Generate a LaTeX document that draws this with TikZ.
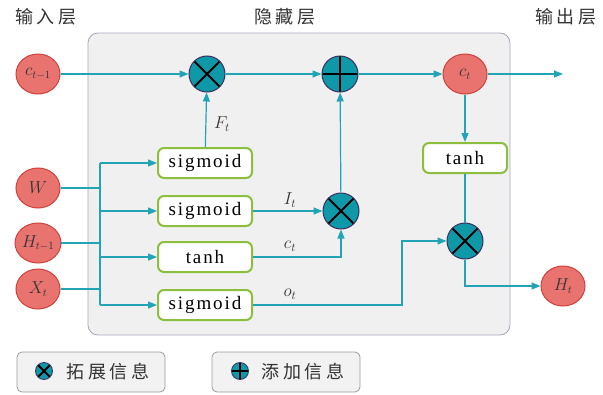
\documentclass[tikz,border=0pt]{standalone}
\usepackage{fontspec}
\setmainfont{Liberation Serif}
\newfontfamily\cjk[LetterSpace=20]{Noto Sans CJK SC}
\newfontfamily\gatefont[LetterSpace=10]{Liberation Serif}
\usetikzlibrary{arrows.meta,shapes.geometric}

\definecolor{iofill}{HTML}{E8736F}
\definecolor{ioedge}{HTML}{D0403C}
\definecolor{opfill}{HTML}{0E98A8}
\definecolor{opedge}{HTML}{3A3060}
\definecolor{wire}{HTML}{22A3B6}
\definecolor{gategreen}{HTML}{8DBF3F}
\definecolor{panelfill}{HTML}{F1F0F0}
\definecolor{paneledge}{HTML}{ABA5BC}
\definecolor{legendfill}{HTML}{F2F2F2}
\definecolor{legendedge}{HTML}{9C9C9C}
\definecolor{inktext}{HTML}{333333}

\tikzset{
  io/.style={ellipse, draw=ioedge, fill=iofill, line width=1pt,
    minimum width=44pt, minimum height=40pt, inner sep=0pt,
    font=\fontsize{16}{18}\selectfont, text=inktext},
  gate/.style={draw=gategreen, fill=white, line width=2pt, rounded corners=6pt,
    minimum width=94pt, minimum height=30pt, inner sep=0pt,
    font=\gatefont\fontsize{19}{21}\selectfont, text=black},
  opnode/.style={circle, draw=opedge, fill=opfill, line width=1pt,
    minimum size=36pt, inner sep=0pt},
  mul/.style={opnode, path picture={
    \draw[black, line width=2pt]
      (path picture bounding box.south west) -- (path picture bounding box.north east)
      (path picture bounding box.north west) -- (path picture bounding box.south east);}},
  add/.style={opnode, path picture={
    \draw[black, line width=2pt]
      (path picture bounding box.north) -- (path picture bounding box.south)
      (path picture bounding box.west) -- (path picture bounding box.east);}},
  wireline/.style={draw=wire, line width=1.2pt},
  arr/.style={wireline, -{Triangle[length=9pt,width=7pt]}},
  lbl/.style={font=\fontsize{17}{19}\selectfont, text=inktext, inner sep=1pt},
  title/.style={font=\cjk\fontsize{18}{20}\selectfont, text=inktext},
  legendbox/.style={draw=legendedge, fill=legendfill, line width=0.8pt,
    rounded corners=5pt, minimum width=148pt, minimum height=40pt},
}

\begin{document}
\begin{tikzpicture}[x=1pt, y=-1pt]
\useasboundingbox (0,0) rectangle (603,394);

% hidden-layer panel
\node[draw=paneledge, fill=panelfill, line width=0.8pt, rounded corners=10pt,
  minimum width=422pt, minimum height=302pt, inner sep=0pt] (panel) at (299,184) {};

% layer titles
\node[title] (tin) at (46,17) {输入层};
\node[title] (thid) at (285,17) {隐藏层};
\node[title] (tout) at (566,17) {输出层};

% inputs
\node[io] (ctm) at (38,74) {$c_{t-1}$};
\node[io] (w) at (38,188) {$W$};
\node[io] (htm) at (38,243) {$H_{t-1}$};
\node[io] (xt) at (38,289) {$X_t$};

% cell-state row
\node[mul] (m1) at (207,74) {};
\node[add] (a1) at (340,74) {};
\node[io] (ct) at (465,74) {$c_t$};
\coordinate (cout) at (563,74);

% gates
\node[gate] (g1) at (205,163) {sigmoid};
\node[gate] (g2) at (205,211) {sigmoid};
\node[gate] (g3) at (205,257) {tanh};
\node[gate] (g4) at (205,305) {sigmoid};
\node[mul] (m2) at (341,211) {};

% output side
\node[gate, minimum width=84pt] (g5) at (465,158) {tanh};
\node[mul] (m3) at (465,241) {};
\node[io] (ht) at (563,286) {$H_t$};

% input bus
\coordinate (bt) at (100,163);
\coordinate (bb) at (100,305);
\coordinate (jog) at (402,0);
\draw[wireline] (w.east) -- (w.east -| bt);
\draw[wireline] (htm.east) -- (htm.east -| bt);
\draw[wireline] (xt.east) -- (xt.east -| bt);
\draw[wireline] (bt) -- (bb);
\draw[arr] (bt) -- (g1.west);
\draw[arr] (bt |- g2) -- (g2.west);
\draw[arr] (bt |- g3) -- (g3.west);
\draw[arr] (bb) -- (g4.west);

% cell state path
\draw[arr] (ctm) -- (m1);
\draw[arr] (m1) -- (a1);
\draw[arr] (a1) -- (ct);
\draw[arr] (ct) -- (cout);

% gate outputs
\draw[arr] (g1) -- (m1);
\node[lbl] (lf) at (222,124) {$F_t$};
\draw[arr] (g2) -- (m2);
\node[lbl] (li) at (290,200) {$I_t$};
\draw[arr] (g3.east) -| (m2.south);
\node[lbl] (lc) at (290,246) {$c_t$};
\draw[arr] (m2) -- (a1);
\draw[arr] (g4.east) -- (g4.east -| jog) |- (m3.west);
\node[lbl] (lo) at (290,294) {$o_t$};

% hidden output
\draw[arr] (ct) -- (g5);
\draw[wireline] (g5) -- (m3);
\draw[arr] (m3.south) |- (ht.west);

% legend
\node[legendbox] (lg1) at (91,372) {};
\node[mul, minimum size=17pt, line width=0.8pt] (k1) at (44,371) {};
\node[title] (k1t) at (108,372) {拓展信息};
\node[legendbox] (lg2) at (286,372) {};
\node[add, minimum size=17pt, line width=0.8pt] (k2) at (240,371) {};
\node[title] (k2t) at (303,372) {添加信息};
\end{tikzpicture}
\end{document}
